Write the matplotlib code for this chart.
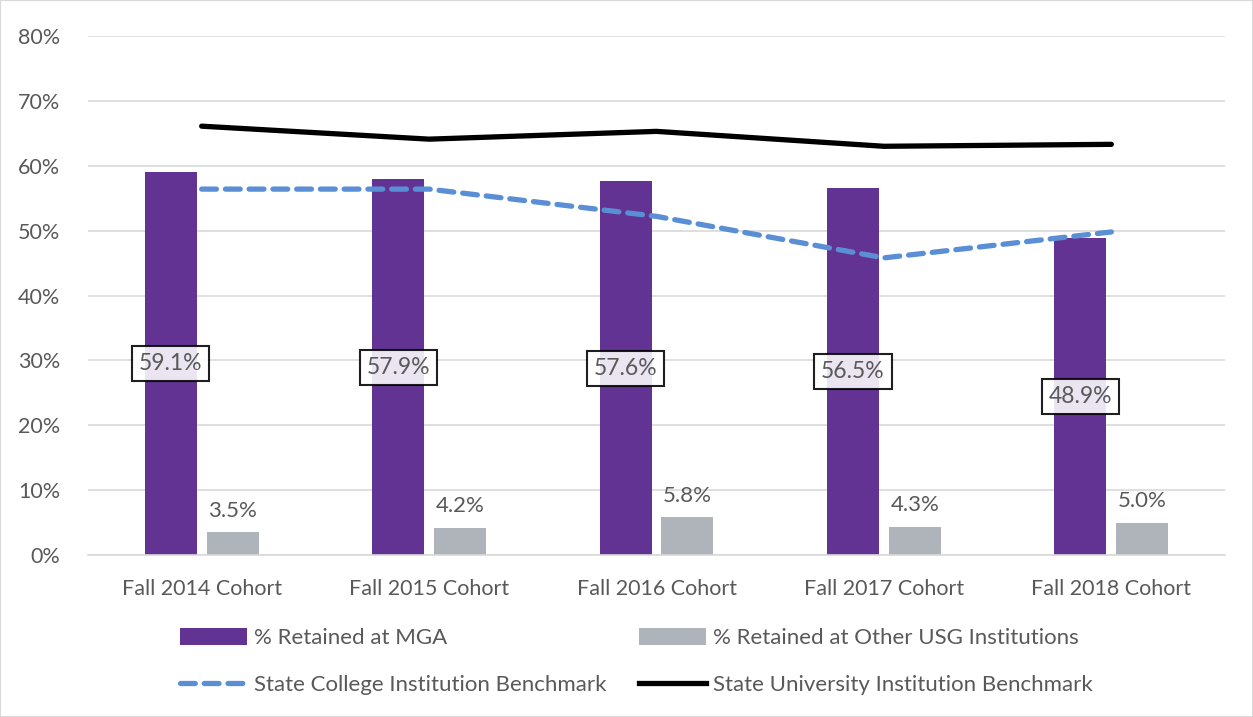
import matplotlib.pyplot as plt
import numpy as np
from matplotlib.lines import Line2D
from matplotlib.patches import Patch, Rectangle

plt.rcParams['font.family'] = ['Lato', 'DejaVu Sans']

categories = ["Fall 2014 Cohort", "Fall 2015 Cohort", "Fall 2016 Cohort", "Fall 2017 Cohort", "Fall 2018 Cohort"]
retained_mga = [59.1, 57.9, 57.6, 56.5, 48.9]
retained_other = [3.5, 4.2, 5.8, 4.3, 5.0]
college_benchmark = [56.4, 56.4, 52.2, 45.8, 49.8]
university_benchmark = [66.1, 64.1, 65.3, 63.0, 63.3]
yticks = [0, 10, 20, 30, 40, 50, 60, 70, 80]

purple = "#623393"
gray = "#AEB4B9"
blue = "#5A8FD6"
txt = "#595959"

fig = plt.figure(figsize=(12.53, 7.17), dpi=100)
ax = fig.add_axes([0.0702, 0.2259, 0.9075, 0.7239])

x = np.arange(len(categories))
w = 0.229
off = 0.136
dash = (0, (2.8, 1.7))
ax.bar(x - off, retained_mga, width=w, color=purple, zorder=2)
ax.bar(x + off, retained_other, width=w, color=gray, zorder=2)
ax.plot(x, college_benchmark, color=blue, lw=3.8, ls=dash, dash_capstyle='round', zorder=3)
ax.plot(x, university_benchmark, color='black', lw=3.8, solid_capstyle='round', zorder=3)

for xi, v in zip(x, retained_mga):
    ax.text(xi - off, v / 2, f"{v:.1f}%", ha='center', va='center', fontsize=16.5, color=txt, zorder=5,
            bbox=dict(boxstyle='square,pad=0.3', facecolor='white', alpha=0.88, edgecolor='black', lw=1.5))
for xi, v in zip(x, retained_other):
    ax.text(xi + off, v + 1.8, f"{v:.1f}%", ha='center', va='bottom', fontsize=16, color=txt, zorder=5)

ax.set_xlim(-0.5, len(categories) - 0.5)
ax.set_ylim(0, 80)
ax.set_yticks(yticks)
ax.set_yticklabels([f"{t}%" for t in yticks])
ax.set_xticks(x)
ax.set_xticklabels(categories)
ax.tick_params(axis='both', length=0, labelsize=15.5, colors=txt)
ax.tick_params(axis='y', pad=20)
ax.tick_params(axis='x', pad=17)
ax.grid(axis='y', color='#d9d9d9', lw=1.2, zorder=0)
ax.set_axisbelow(True)
for s in ['top', 'right', 'left']:
    ax.spines[s].set_visible(False)
ax.spines['bottom'].set_color('#d9d9d9')
ax.spines['bottom'].set_linewidth(1.2)

handles = [
    Patch(facecolor=purple, label="% Retained at MGA"),
    Line2D([0], [0], color=blue, lw=3.8, ls=dash, dash_capstyle='round', label="State College Institution Benchmark"),
    Patch(facecolor=gray, label="% Retained at Other USG Institutions"),
    Line2D([0], [0], color='black', lw=3.8, label="State University Institution Benchmark"),
]
leg = fig.legend(handles=handles, ncol=2, loc='center', bbox_to_anchor=(0.508, 0.077), frameon=False,
                 fontsize=16, handlelength=3.0, handleheight=0.8, columnspacing=1.45, labelspacing=1.2,
                 handletextpad=0.35)
for t in leg.get_texts():
    t.set_color(txt)

fig.patches.append(Rectangle((0, 0), 1, 1, transform=fig.transFigure, fill=False, edgecolor='#d9d9d9', lw=1.5))

fig.savefig("out.png", dpi=100)
